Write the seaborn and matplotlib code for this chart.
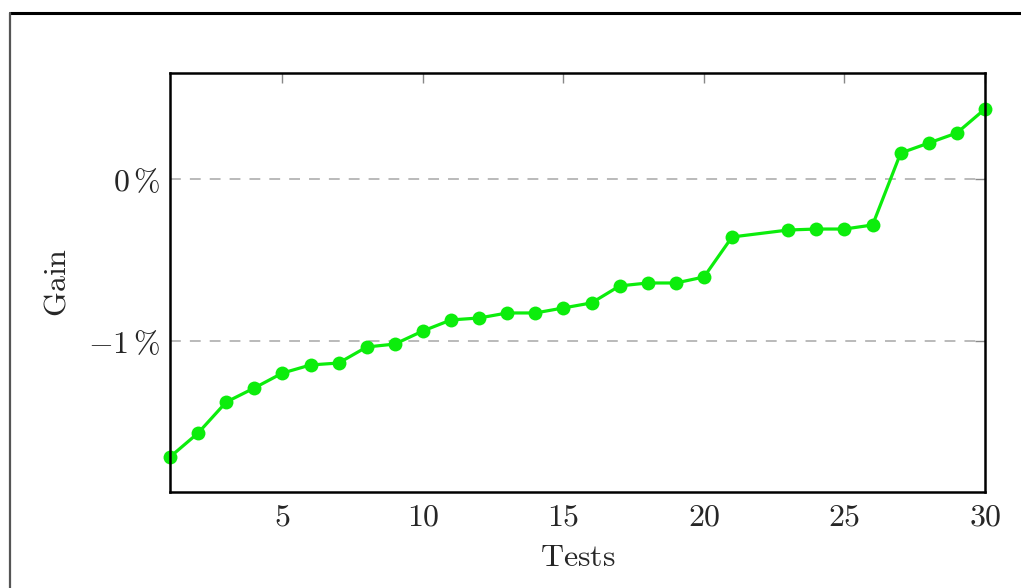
#! /usr/bin/env python3
"""Gain per test, sorted ascending, pgfplots-like look."""

import matplotlib
matplotlib.use('Agg')
import matplotlib.pyplot as plt
from matplotlib.lines import Line2D
import pandas as pd
import seaborn as sns

# ------------------------------
# Data (gain in %), test 22 has no value
# ------------------------------
tests = [1, 2, 3, 4, 5, 6, 7, 8, 9, 10,
         11, 12, 13, 14, 15, 16, 17, 18, 19, 20,
         21, 23, 24, 25, 26, 27, 28, 29, 30]
gain = [-1.716, -1.568, -1.377, -1.290, -1.198, -1.148, -1.136, -1.037, -1.019, -0.938,
        -0.870, -0.858, -0.827, -0.827, -0.796, -0.765, -0.660, -0.642, -0.642, -0.605,
        -0.358, -0.315, -0.309, -0.309, -0.284, 0.160, 0.222, 0.284, 0.432]
x_ticks = [5, 10, 15, 20, 25, 30]
y_ticks = [-1, 0]
y_tick_labels = [r'$-1\,\%$', r'$0\,\%$']

sns.set_style('white')
plt.rcParams['mathtext.fontset'] = 'cm'
plt.rcParams['font.family'] = ['DejaVu Serif']

df = pd.DataFrame({'Tests': tests, 'Gain': gain})

fig = plt.figure(figsize=(10.21, 5.88), dpi=100)
ax = fig.add_axes([170 / 1021, 1 - 492 / 588, 815 / 1021, 419 / 588])

for yv in y_ticks:
    ax.axhline(yv, color='#b4b4b4', lw=1.3, ls=(0, (6, 5)), zorder=0)

sns.lineplot(data=df, x='Tests', y='Gain', color='#0ced0c', lw=2.3,
             marker='o', markersize=10, markeredgewidth=0, ax=ax, clip_on=False)

ax.set_xlim(1, 30)
ax.set_ylim(-1.932, 0.654)
ax.set_xticks(x_ticks)
ax.set_xticklabels([f'${t}$' for t in x_ticks])
ax.set_yticks(y_ticks)
ax.set_yticklabels(y_tick_labels)
ax.tick_params(direction='in', length=7, width=1.0, color='#888888',
               top=True, right=True, labelsize=23, pad=7)

for side in ax.spines.values():
    side.set_color('black')
    side.set_linewidth(1.8)

ax.set_xlabel(r'$\mathrm{Tests}$', fontsize=23, labelpad=7)
ax.set_ylabel(r'$\mathrm{Gain}$', fontsize=23, labelpad=11)

# page frame of the screenshot
fig.add_artist(Line2D([10 / 1021, 1.0], [1 - 13 / 588, 1 - 13 / 588],
                      transform=fig.transFigure, color='black', lw=2.2))
fig.add_artist(Line2D([10 / 1021, 10 / 1021], [0.0, 1 - 13 / 588],
                      transform=fig.transFigure, color='#555555', lw=1.6))

fig.savefig('out.png', dpi=100)
